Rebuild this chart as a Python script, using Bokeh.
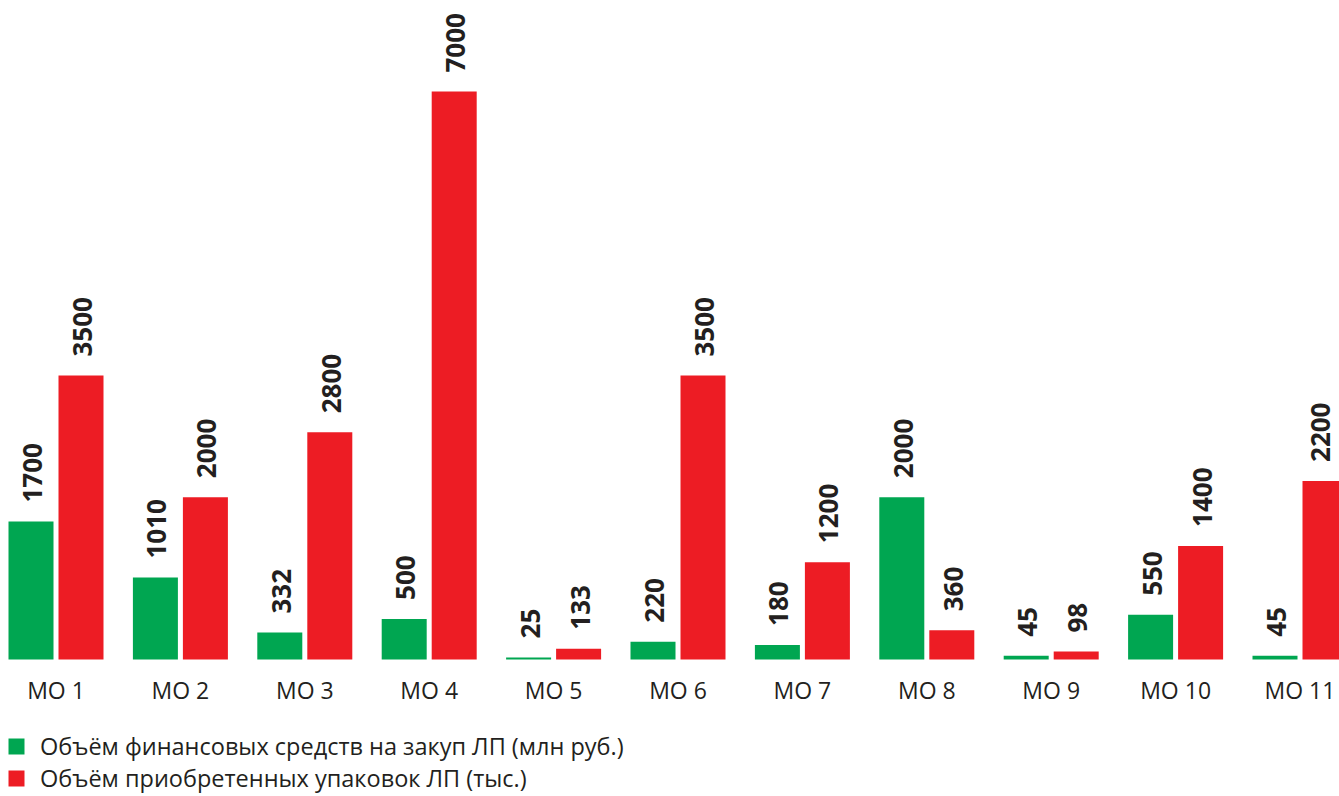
import math
from bokeh.plotting import figure
from bokeh.models import ColumnDataSource, Range1d, Legend, LegendItem
from bokeh.core.properties import value
from bokeh.embed import file_html
from bokeh.resources import INLINE

categories = ["МО 1", "МО 2", "МО 3", "МО 4", "МО 5", "МО 6", "МО 7", "МО 8", "МО 9", "МО 10", "МО 11"]
funds = [1700, 1010, 332, 500, 25, 220, 180, 2000, 45, 550, 45]
packs = [3500, 2000, 2800, 7000, 133, 3500, 1200, 360, 98, 1400, 2200]
legend_labels = ["Объём финансовых средств на закуп ЛП (млн руб.)",
                 "Объём приобретенных упаковок ЛП (тыс.)"]

W, H = 1339, 796
group_px = 124.4
first_center_px = 55.5
baseline_px_from_top = 659
px_per_unit = 568.0 / 7000.0

x_start = -first_center_px / group_px
x_end = x_start + W / group_px
y_start = -(H - baseline_px_from_top) / px_per_unit
y_end = baseline_px_from_top / px_per_unit

bar_w = 45.0 / group_px
off = 25.0 / group_px
# keep rotated value labels inside the picture
label_limit = x_end - 19.0 / group_px

GREEN = "#00a651"
RED = "#ed1c24"
TXT = "#231f20"
FONT = "Open Sans"

idx = list(range(len(categories)))
xg = [i - off for i in idx]
xr = [i + off for i in idx]
src = ColumnDataSource(dict(
    x=idx,
    xg=xg,
    xr=xr,
    xg_lab=[min(v + 1.5 / group_px, label_limit) for v in xg],
    xr_lab=[min(v + 1.5 / group_px, label_limit) for v in xr],
    cat=categories,
    funds=funds,
    packs=packs,
    funds_t=[str(v) for v in funds],
    packs_t=[str(v) for v in packs],
    zero=[0] * len(idx),
))

p = figure(width=W, height=H, output_backend="svg", toolbar_location=None,
           x_axis_type=None, y_axis_type=None,
           x_range=Range1d(x_start, x_end), y_range=Range1d(y_start, y_end),
           min_border=0, min_border_left=0, min_border_right=0,
           min_border_top=0, min_border_bottom=0)
p.outline_line_color = None
p.grid.visible = False
p.background_fill_color = "white"
p.border_fill_color = "white"

rg = p.vbar(x="xg", top="funds", bottom=0, width=bar_w, source=src,
            fill_color=GREEN, line_color=None)
rr = p.vbar(x="xr", top="packs", bottom=0, width=bar_w, source=src,
            fill_color=RED, line_color=None)

# value labels (rotated)
for xcol, tcol, ycol in (("xg_lab", "funds_t", "funds"), ("xr_lab", "packs_t", "packs")):
    p.text(x=xcol, y=ycol, text=tcol, source=src, angle=math.pi / 2,
           text_align="left", text_baseline="middle", y_offset=-19,
           text_font=value(FONT), text_font_style="bold",
           text_font_size="26px", text_color=TXT)

# category labels
p.text(x="x", y="zero", text="cat", source=src, text_align="center",
       text_baseline="middle", y_offset=30, text_font=value(FONT),
       text_font_size="23px", text_color=TXT)

legend = Legend(items=[LegendItem(label=legend_labels[0], renderers=[rg]),
                       LegendItem(label=legend_labels[1], renderers=[rr])],
                location=(6, 2), orientation="vertical",
                glyph_width=20, glyph_height=20, label_standoff=14,
                label_text_font=FONT, label_text_font_size="23.5px",
                label_text_color=TXT, label_height=22, spacing=-2,
                padding=0, margin=0, border_line_color=None,
                background_fill_alpha=0)
p.add_layout(legend)

open("out.html", "w").write(file_html(p, INLINE))
